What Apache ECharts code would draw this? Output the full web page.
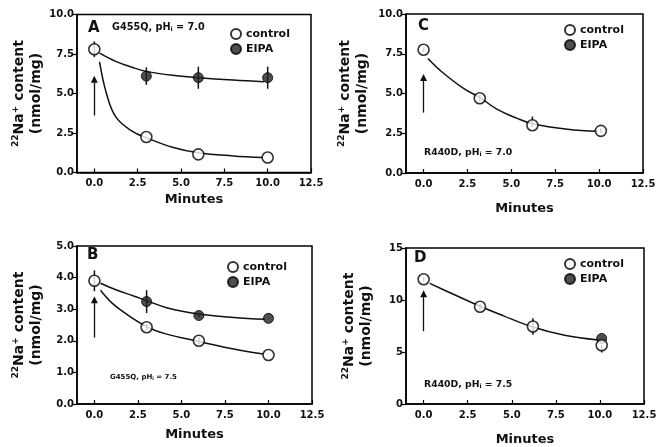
<!DOCTYPE html>
<html><head><meta charset="utf-8">
<script src="https://cdn.jsdelivr.net/npm/echarts@6/dist/echarts.min.js"></script>
<style>html,body{margin:0;padding:0;background:#fff}#c{width:662px;height:447px}</style>
</head><body><div id="c"></div>
<script>
// ---------- DATA ----------
const xTickValues = [0, 2.5, 5, 7.5, 10, 12.5];

// Panel A: G455Q, pHi = 7.0
const A_ctrlX = [0, 3, 6, 10];
const A_ctrlY = [7.8, 2.25, 1.15, 0.95];
const A_ctrlErrUp = [0.5, 0, 0, 0];
const A_ctrlErrDn = [0.5, 0, 0, 0];
const A_eipaX = [3, 6, 10];
const A_eipaY = [6.1, 6.0, 6.0];
const A_eipaErrUp = [0.55, 0.7, 0.7];
const A_eipaErrDn = [0.55, 0.7, 0.7];
const A_ctrlFitX = [0.3, 0.7, 1.25, 2.2, 3, 4.5, 6, 8, 9.7];
const A_ctrlFitY = [7.0, 5.0, 3.5, 2.6, 2.2, 1.6, 1.25, 1.05, 0.95];
const A_eipaFitX = [0.3, 1.2, 2.2, 3, 4.5, 6, 8, 9.8];
const A_eipaFitY = [7.55, 7.05, 6.65, 6.4, 6.15, 6.0, 5.85, 5.75];
const A_arrow = [0, 3.6, 5.9];

// Panel B: G455Q, pHi = 7.5
const B_ctrlX = [0, 3, 6, 10];
const B_ctrlY = [3.9, 2.43, 2.0, 1.55];
const B_ctrlErrUp = [0.33, 0.1, 0.12, 0];
const B_ctrlErrDn = [0.33, 0.1, 0.12, 0];
const B_eipaX = [3, 6, 10];
const B_eipaY = [3.24, 2.8, 2.71];
const B_eipaErrUp = [0.36, 0.05, 0];
const B_eipaErrDn = [0.36, 0.05, 0];
const B_ctrlFitX = [0.35, 1.0, 1.7, 3, 4.1, 6, 8, 9.7];
const B_ctrlFitY = [3.6, 3.2, 2.9, 2.45, 2.22, 1.98, 1.74, 1.58];
const B_eipaFitX = [0.35, 1.3, 2.25, 3, 4.2, 6, 8, 9.8];
const B_eipaFitY = [3.82, 3.6, 3.42, 3.27, 3.04, 2.85, 2.74, 2.68];
const B_arrow = [0, 2.1, 3.3];

// Panel C: R440D, pHi = 7.0
const C_ctrlX = [0, 3.2, 6.2, 10.1];
const C_ctrlY = [7.75, 4.7, 3.0, 2.65];
const C_ctrlErrUp = [0.15, 0.2, 0.55, 0.15];
const C_ctrlErrDn = [0.15, 0.2, 0.1, 0.15];
const C_eipaX = [];
const C_eipaY = [];
const C_eipaErrUp = [];
const C_eipaErrDn = [];
const C_ctrlFitX = [0.25, 1, 2.3, 3.2, 4.2, 5.3, 6.2, 8.2, 9.9];
const C_ctrlFitY = [7.2, 6.4, 5.3, 4.75, 4.0, 3.45, 3.1, 2.75, 2.62];
const C_eipaFitX = [];
const C_eipaFitY = [];
const C_arrow = [0, 3.8, 6.0];

// Panel D: R440D, pHi = 7.5
const D_ctrlX = [0, 3.2, 6.2, 10.1];
const D_ctrlY = [12.0, 9.35, 7.45, 5.65];
const D_ctrlErrUp = [0.2, 0.3, 0.8, 0];
const D_ctrlErrDn = [0.2, 0.3, 0.8, 0.7];
const D_eipaX = [10.1];
const D_eipaY = [6.3];
const D_eipaErrUp = [0];
const D_eipaErrDn = [0];
const D_ctrlFitX = [0.35, 1.5, 3.2, 4.5, 6.2, 8, 9.9];
const D_ctrlFitY = [11.6, 10.7, 9.4, 8.5, 7.4, 6.6, 6.15];
const D_eipaFitX = [];
const D_eipaFitY = [];
const D_arrow = [0, 7.0, 10.6];

// ---------- LAYOUT / STYLE ----------
const F = 'DejaVu Sans';
const panels = [
  {letter:'A', text:'G455Q, pH{sub|i} = 7.0', grid:{left:77, top:14.5, width:234, height:158}, yMax:10, yInt:2.5, yDec:1,
   ctrlX:A_ctrlX, ctrlY:A_ctrlY, ctrlUp:A_ctrlErrUp, ctrlDn:A_ctrlErrDn, eipaX:A_eipaX, eipaY:A_eipaY, eipaUp:A_eipaErrUp, eipaDn:A_eipaErrDn,
   cfx:A_ctrlFitX, cfy:A_ctrlFitY, efx:A_eipaFitX, efy:A_eipaFitY, arrow:A_arrow,
   xGap:21, yGap:32, letterPos:[94,30], textPos:[112,29], textSize:9.7, legendPos:[225,23]},
  {letter:'B', text:'G455Q, pH{sub|i} = 7.5', grid:{left:77, top:246, width:235, height:158}, yMax:5, yInt:1, yDec:1,
   ctrlX:B_ctrlX, ctrlY:B_ctrlY, ctrlUp:B_ctrlErrUp, ctrlDn:B_ctrlErrDn, eipaX:B_eipaX, eipaY:B_eipaY, eipaUp:B_eipaErrUp, eipaDn:B_eipaErrDn,
   cfx:B_ctrlFitX, cfy:B_ctrlFitY, efx:B_eipaFitX, efy:B_eipaFitY, arrow:B_arrow,
   xGap:24, yGap:32, letterPos:[93,257], textPos:[110,379], textSize:7, legendPos:[222,256]},
  {letter:'C', text:'R440D, pH{sub|i} = 7.0', grid:{left:406, top:14, width:237, height:159}, yMax:10, yInt:2.5, yDec:1,
   ctrlX:C_ctrlX, ctrlY:C_ctrlY, ctrlUp:C_ctrlErrUp, ctrlDn:C_ctrlErrDn, eipaX:C_eipaX, eipaY:C_eipaY, eipaUp:C_eipaErrUp, eipaDn:C_eipaErrDn,
   cfx:C_ctrlFitX, cfy:C_ctrlFitY, efx:C_eipaFitX, efy:C_eipaFitY, arrow:C_arrow,
   xGap:29, yGap:35, letterPos:[424,28], textPos:[424,155], textSize:9.3, legendPos:[559,19]},
  {letter:'D', text:'R440D, pH{sub|i} = 7.5', grid:{left:406, top:248, width:238, height:158}, yMax:15, yInt:5, yDec:0,
   ctrlX:D_ctrlX, ctrlY:D_ctrlY, ctrlUp:D_ctrlErrUp, ctrlDn:D_ctrlErrDn, eipaX:D_eipaX, eipaY:D_eipaY, eipaUp:D_eipaErrUp, eipaDn:D_eipaErrDn,
   cfx:D_ctrlFitX, cfy:D_ctrlFitY, efx:D_eipaFitX, efy:D_eipaFitY, arrow:D_arrow,
   xGap:29, yGap:31, letterPos:[420,260], textPos:[424,387], textSize:9.3, legendPos:[559,253]}
];

const zip = (xs, ys) => xs.map((x, i) => [x, ys[i]]);
const errData = (xs, ys, up, dn) => xs.map((x, i) => [x, ys[i] - dn[i], ys[i] + up[i]]);

const grid = [], xAxis = [], yAxis = [], series = [], legend = [], graphic = [];
panels.forEach((p, i) => {
  grid.push(Object.assign({show:true, borderColor:'#000', borderWidth:1.5, backgroundColor:'#fff'}, p.grid));
  xAxis.push({
    type:'value', gridIndex:i, min:-1, max:12.5,
    name:'Minutes', nameLocation:'middle', nameGap:p.xGap,
    nameTextStyle:{fontFamily:F, fontWeight:'bold', fontSize:13, color:'#111'},
    axisLine:{show:true, onZero:false, lineStyle:{color:'#000', width:1.5}},
    axisTick:{show:true, inside:true, length:4, customValues:xTickValues, lineStyle:{color:'#000', width:1.2}},
    axisLabel:{show:true, margin:6, customValues:xTickValues, fontFamily:F, fontWeight:'bold', fontSize:10, color:'#111',
      formatter: v => v.toFixed(1)},
    splitLine:{show:false}
  });
  yAxis.push({
    type:'value', gridIndex:i, min:0, max:p.yMax, interval:p.yInt,
    name:'{sup|22}Na{sup|+} content\n(nmol/mg)', nameLocation:'middle', nameGap:p.yGap,
    nameTextStyle:{fontFamily:F, fontWeight:'bold', fontSize:14, color:'#111', lineHeight:17,
      rich:{sup:{fontFamily:F, fontWeight:'bold', fontSize:9, verticalAlign:'top', lineHeight:17}}},
    axisLine:{show:true, onZero:false, lineStyle:{color:'#000', width:1.5}},
    axisTick:{show:true, inside:false, length:4, lineStyle:{color:'#000', width:1.2}},
    axisLabel:{show:true, margin:3, fontFamily:F, fontWeight:'bold', fontSize:10, color:'#111',
      formatter: v => v.toFixed(p.yDec)},
    splitLine:{show:false}
  });
  const lineStyle = {color:'#111', width:1.5};
  series.push({
    type:'line', name:'fitC'+p.letter, xAxisIndex:i, yAxisIndex:i, data:zip(p.cfx, p.cfy),
    smooth:0.4, showSymbol:false, symbol:'none', lineStyle, z:2, silent:true,
    markLine:{silent:true, symbol:['none','triangle'], symbolSize:7, label:{show:false},
      lineStyle:{color:'#111', width:1.3, type:'solid'},
      data:[[{coord:[p.arrow[0], p.arrow[1]]}, {coord:[p.arrow[0], p.arrow[2]]}]]}
  });
  series.push({
    type:'line', name:'fitE'+p.letter, xAxisIndex:i, yAxisIndex:i, data:zip(p.efx, p.efy),
    smooth:0.4, showSymbol:false, symbol:'none', lineStyle, z:2, silent:true
  });
  const errRender = (params, api) => {
    const x = api.value(0), lo = api.value(1), hi = api.value(2);
    const a = api.coord([x, lo]), b = api.coord([x, hi]);
    return {type:'line', shape:{x1:a[0], y1:a[1], x2:b[0], y2:b[1]}, style:{stroke:'#111', lineWidth:1.5}};
  };
  series.push({type:'custom', name:'errC'+p.letter, xAxisIndex:i, yAxisIndex:i, renderItem:errRender,
    encode:{x:0, y:[1,2]}, data:errData(p.ctrlX, p.ctrlY, p.ctrlUp, p.ctrlDn), z:3, silent:true});
  series.push({type:'custom', name:'errE'+p.letter, xAxisIndex:i, yAxisIndex:i, renderItem:errRender,
    encode:{x:0, y:[1,2]}, data:errData(p.eipaX, p.eipaY, p.eipaUp, p.eipaDn), z:3, silent:true});
  series.push({type:'scatter', name:'EIPA', xAxisIndex:i, yAxisIndex:i, data:zip(p.eipaX, p.eipaY),
    symbol:'circle', symbolSize:10, itemStyle:{color:'#222', borderColor:'#000', borderWidth:1}, z:4});
  series.push({type:'scatter', name:'control', xAxisIndex:i, yAxisIndex:i, data:zip(p.ctrlX, p.ctrlY),
    symbol:'circle', symbolSize:11, itemStyle:{color:'#fff', borderColor:'#000', borderWidth:1.6}, z:5});
  legend.push({
    data:['control','EIPA'], orient:'vertical', left:p.legendPos[0], top:p.legendPos[1],
    itemWidth:10, itemHeight:10, itemGap:3, selectedMode:false,
    textStyle:{fontFamily:F, fontWeight:'bold', fontSize:11, color:'#111'}
  });
  graphic.push({type:'text', left:p.letterPos[0]-6, top:p.letterPos[1]-9,
    style:{text:p.letter, font:'bold 15px "DejaVu Sans"', fill:'#111'}});
  graphic.push({type:'text', left:p.textPos[0], top:p.textPos[1]-p.textSize*0.7,
    style:{text:p.text, fontFamily:F, fontSize:p.textSize, fontWeight:'bold', fill:'#111',
      rich:{sub:{fontFamily:F, fontSize:p.textSize*0.65, fontWeight:'bold', verticalAlign:'bottom', fill:'#111'}}}});
});

const chart = echarts.init(document.getElementById('c'), null, {renderer:'canvas'});
chart.setOption({animation:false, backgroundColor:'#fff', grid, xAxis, yAxis, series, legend, graphic});
</script></body></html>
